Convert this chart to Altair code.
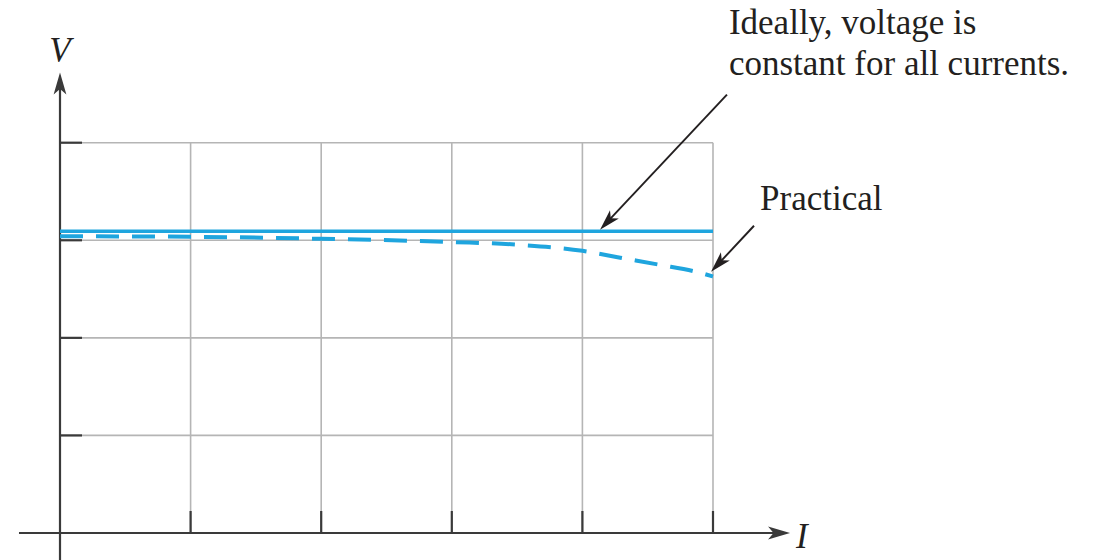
import math
import altair as alt
import pandas as pd

# ---------------- data ----------------
# current I in grid units (0..5), voltage V in grid units (0..4)
practical_i = [0, 1, 2, 3, 3.5, 4, 4.29, 4.59, 4.9, 5]
practical_v = [3.041, 3.036, 3.015, 2.982, 2.955, 2.892, 2.821, 2.749, 2.667, 2.629]
ideal_i = [0, 5]
ideal_v = [3.092, 3.092]

grid_cols = [1, 2, 3, 4, 5]
grid_rows = [1, 2, 3, 4]
I_MAX = 5
V_MAX = 4

# axis extents (data units): I axis and V axis, arrow tip at the end
i_axis = [-0.314, 5.59]
v_axis = [-0.29, 4.72]

# annotation arrows: start -> tip
arrow_names = ["ideal", "practical"]
arrow_x0 = [5.107, 5.314]
arrow_y0 = [4.492, 3.149]
arrow_x1 = [4.135, 4.985]
arrow_y1 = [3.108, 2.677]

# annotation texts
note_text = ["Ideally, voltage is", "constant for all currents.", "Practical"]
note_x = [5.122, 5.122, 5.36]
note_y = [5.114, 4.689, 3.310]

axis_label_text = ["V", "I"]
axis_label_x = [0.0, 5.68]
axis_label_y = [4.831, -0.154]

# ---------------- scales ----------------
X_RANGE = [52, 705]
Y_RANGE = [525, 134.7]
SX = (X_RANGE[1] - X_RANGE[0]) / I_MAX
SY = (Y_RANGE[0] - Y_RANGE[1]) / V_MAX

xs = alt.Scale(domain=[0, I_MAX], range=X_RANGE, nice=False, zero=False)
ys = alt.Scale(domain=[0, V_MAX], range=Y_RANGE, nice=False, zero=False)


def ex(f):
    return alt.X(f, type="quantitative", scale=xs, axis=None)


def ey(f):
    return alt.Y(f, type="quantitative", scale=ys, axis=None)


def ex2(f):
    return alt.X2(f)


def ey2(f):
    return alt.Y2(f)


def angle_of(x0, y0, x1, y1):
    dx = (x1 - x0) * SX
    dy = -(y1 - y0) * SY
    a = math.degrees(math.atan2(dx, -dy))
    return a % 360


def shorten(x0, y0, x1, y1, px):
    dx = (x1 - x0) * SX
    dy = (y1 - y0) * SY
    d = math.hypot(dx, dy)
    f = (d - px) / d
    return x0 + (x1 - x0) * f, y0 + (y1 - y0) * f


GRID = "#b5b5b5"
AXIS = "#3a3a3a"
BLUE = "#1fa5de"
INK = "#231f20"
FONT = "Liberation Serif"
ARROW = "M0,0 L0.58,2 L0,1.5 L-0.58,2 Z"

# ---------------- grid ----------------
vgrid = pd.DataFrame({"x": grid_cols})
vgrid["y0"] = 0
vgrid["y1"] = V_MAX
hgrid = pd.DataFrame({"y": grid_rows})
hgrid["x0"] = 0
hgrid["x1"] = I_MAX

grid_v = alt.Chart(vgrid).mark_rule(color=GRID, strokeWidth=1.6).encode(
    x=ex("x"), y=ey("y0"), y2=ey2("y1"))
grid_h = alt.Chart(hgrid).mark_rule(color=GRID, strokeWidth=1.6).encode(
    x=ex("x0"), x2=ex2("x1"), y=ey("y"))

# ---------------- ticks ----------------
TICK_PX = 22
xt = pd.DataFrame({"x": grid_cols})
xt["y0"] = 0
xt["y1"] = TICK_PX / SY
yt = pd.DataFrame({"y": grid_rows})
yt["x0"] = 0
yt["x1"] = TICK_PX / SX
ticks_x = alt.Chart(xt).mark_rule(color=AXIS, strokeWidth=2.2).encode(
    x=ex("x"), y=ey("y0"), y2=ey2("y1"))
ticks_y = alt.Chart(yt).mark_rule(color=AXIS, strokeWidth=2.2).encode(
    x=ex("x0"), x2=ex2("x1"), y=ey("y"))

# ---------------- axes with arrows ----------------
ix_end, _ = shorten(i_axis[0], 0, i_axis[1], 0, 10)
_, vy_end = shorten(0, v_axis[0], 0, v_axis[1], 10)
axes_df = pd.DataFrame({
    "x0": [i_axis[0], 0], "y0": [0, v_axis[0]],
    "x1": [ix_end, 0], "y1": [0, vy_end],
})
axes = alt.Chart(axes_df).mark_rule(color=AXIS, strokeWidth=2.2).encode(
    x=ex("x0"), y=ey("y0"), x2=ex2("x1"), y2=ey2("y1"))
axis_heads_df = pd.DataFrame({
    "x": [i_axis[1], 0], "y": [0, v_axis[1]],
    "ang": [angle_of(i_axis[0], 0, i_axis[1], 0), angle_of(0, v_axis[0], 0, v_axis[1])],
})
axis_heads = alt.Chart(axis_heads_df).mark_point(
    shape=ARROW, filled=True, color=AXIS, size=484, strokeWidth=0, opacity=1
).encode(x=ex("x"), y=ey("y"), angle=alt.Angle("ang:Q", scale=None))

# ---------------- data lines ----------------
ideal_df = pd.DataFrame({"I": ideal_i, "V": ideal_v})
prac_df = pd.DataFrame({"I": practical_i, "V": practical_v})
ideal = alt.Chart(ideal_df).mark_line(color=BLUE, strokeWidth=3.6).encode(
    x=ex("I"), y=ey("V"))
practical = alt.Chart(prac_df).mark_line(
    color=BLUE, strokeWidth=4, strokeDash=[23, 13], interpolate="monotone"
).encode(x=ex("I"), y=ey("V"))

# ---------------- annotation arrows ----------------
rows = []
for n, a0, b0, a1, b1 in zip(arrow_names, arrow_x0, arrow_y0, arrow_x1, arrow_y1):
    ea, eb = shorten(a0, b0, a1, b1, 9)
    rows.append({"name": n, "x0": a0, "y0": b0, "x1": ea, "y1": eb,
                 "tx": a1, "ty": b1, "ang": angle_of(a0, b0, a1, b1)})
arr_df = pd.DataFrame(rows)
arrow_lines = alt.Chart(arr_df).mark_rule(color=INK, strokeWidth=1.9).encode(
    x=ex("x0"), y=ey("y0"), x2=ex2("x1"), y2=ey2("y1"))
arrow_heads = alt.Chart(arr_df).mark_point(
    shape=ARROW, filled=True, color=INK, size=441, strokeWidth=0, opacity=1
).encode(x=ex("tx"), y=ey("ty"), angle=alt.Angle("ang:Q", scale=None))

# ---------------- texts ----------------
notes_df = pd.DataFrame({"t": note_text, "x": note_x, "y": note_y})
notes = alt.Chart(notes_df).mark_text(
    font=FONT, fontSize=35, color=INK, align="left", baseline="alphabetic"
).encode(x=ex("x"), y=ey("y"), text="t:N")

lab_df = pd.DataFrame({"t": axis_label_text, "x": axis_label_x, "y": axis_label_y})
labels = alt.Chart(lab_df).mark_text(
    font=FONT, fontSize=35, fontStyle="italic", color=INK, align="center",
    baseline="alphabetic"
).encode(x=ex("x"), y=ey("y"), text="t:N")

chart = alt.layer(
    grid_v, grid_h, ticks_x, ticks_y, axes, axis_heads,
    ideal, practical, arrow_lines, arrow_heads, notes, labels
).properties(
    width=1080, height=552, padding=0, autosize=alt.AutoSizeParams(type="none"),
    background="white"
).configure_view(stroke="transparent")

chart.save("out.html", embed_options={"renderer": "svg", "actions": False})
